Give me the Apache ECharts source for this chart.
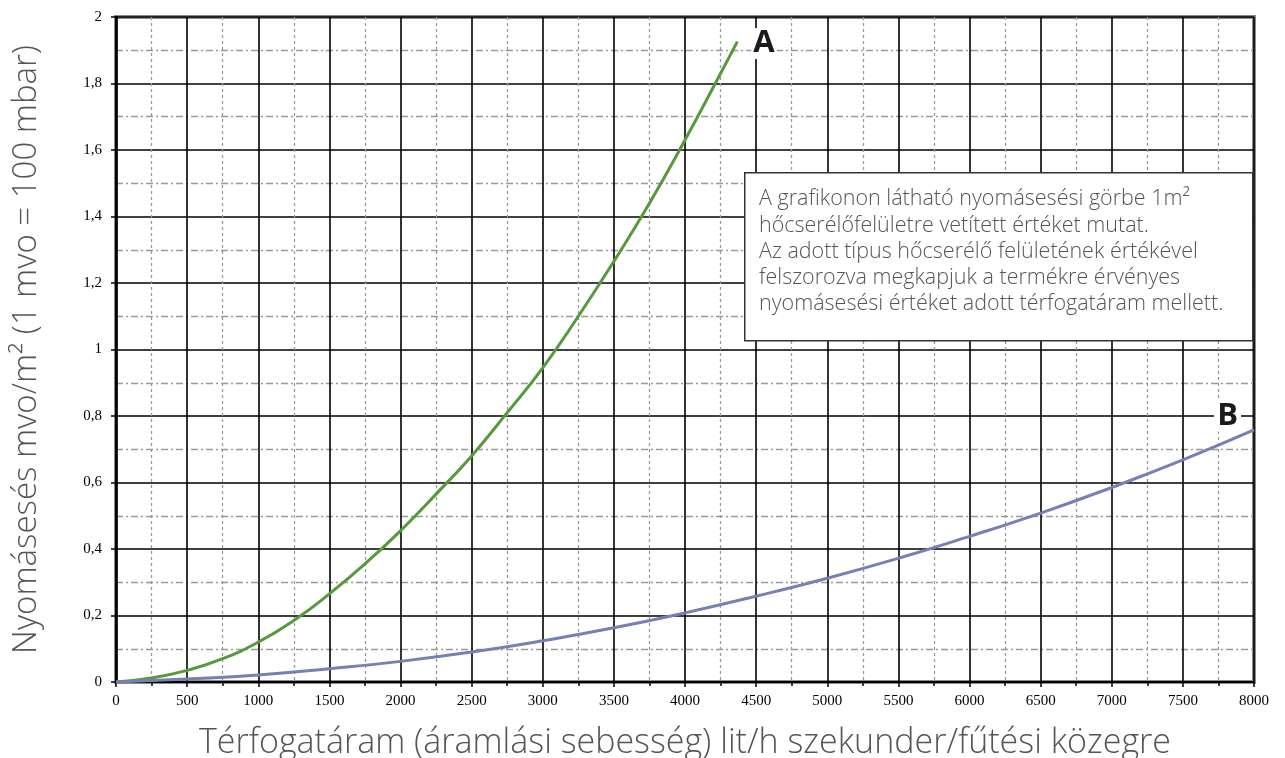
<!DOCTYPE html>
<html><head><meta charset="utf-8">
<script src="https://cdn.jsdelivr.net/npm/echarts@6/dist/echarts.min.js"></script>
<style>html,body{margin:0;padding:0;background:#fff}#c{width:1285px;height:758px}</style>
</head><body><div id="c"></div>
<script>
// Curve A (green) – [flow l/h, pressure drop mvo/m²]
const flowA = [0, 250, 500, 750, 1000, 1250, 1500, 1750, 2000, 2250, 2500, 2750, 3000, 3250, 3500, 3750, 4000, 4250, 4368];
const dropA = [0, 0.012, 0.035, 0.07, 0.12, 0.185, 0.265, 0.355, 0.455, 0.565, 0.68, 0.81, 0.945, 1.1, 1.265, 1.44, 1.63, 1.83, 1.926];
// Curve B (blue)
const flowB = [0, 500, 1000, 1500, 2000, 2500, 3000, 3500, 4000, 4500, 5000, 5500, 6000, 6500, 7000, 7500, 8000];
const dropB = [0, 0.009, 0.021, 0.04, 0.062, 0.09, 0.124, 0.163, 0.208, 0.258, 0.312, 0.372, 0.438, 0.508, 0.585, 0.668, 0.758];
const xTitle = 'Térfogatáram (áramlási sebesség) lit/h szekunder/fűtési közegre';
const yTitle = 'Nyomásesés mvo/m² (1 mvo = 100 mbar)';
const noteLines = [
  'A grafikonon látható nyomásesési görbe 1m²',
  'hőcserélőfelületre vetített értéket mutat.',
  'Az adott típus hőcserélő felületének értékével',
  'felszorozva megkapjuk a termékre érvényes',
  'nyomásesési értéket adott térfogatáram mellett.'
];

const chart = echarts.init(document.getElementById('c'));
const serif = 'Liberation Serif';
const sans = 'Open Sans';
chart.setOption({
  animation: false,
  grid: {left: 116, right: 31, top: 17, bottom: 76, outerBoundsMode: 'none', containLabel: false,
    show: true, borderColor: '#8c8c8c', borderWidth: 4, backgroundColor: '#fff'},
  xAxis: {
    type: 'value', min: 0, max: 8000, interval: 500,
    name: xTitle, nameLocation: 'middle', nameGap: 44,
    nameTextStyle: {fontFamily: sans, fontSize: 34, color: '#555', fontWeight: 300},
    axisLine: {show: true, onZero: false, lineStyle: {color: '#000', width: 2}},
    axisTick: {show: true, length: 5, lineStyle: {color: '#000', width: 1.5}},
    minorTick: {show: true, splitNumber: 2, length: 4, lineStyle: {color: '#000', width: 1.5}},
    axisLabel: {fontFamily: serif, fontSize: 15, color: '#000', margin: 12, formatter: v => String(v)},
    splitLine: {show: true, lineStyle: {color: '#000', width: 1.6}},
    minorSplitLine: {show: true, lineStyle: {color: '#999', width: 1.3, type: [3, 3]}}
  },
  yAxis: {
    type: 'value', min: 0, max: 2, interval: 0.2,
    name: yTitle, nameLocation: 'middle', nameGap: 73,
    nameTextStyle: {fontFamily: sans, fontSize: 33, color: '#555', fontWeight: 300},
    axisLine: {show: true, onZero: false, lineStyle: {color: '#000', width: 2.5}},
    axisTick: {show: true, length: 5, lineStyle: {color: '#000', width: 1.5}},
    minorTick: {show: true, splitNumber: 2, length: 0},
    axisLabel: {fontFamily: serif, fontSize: 15, color: '#000', margin: 14,
      formatter: v => String(Math.round(v * 10) / 10).replace('.', ',')},
    splitLine: {show: true, lineStyle: {color: '#000', width: 1.6}},
    minorSplitLine: {show: true, lineStyle: {color: '#999', width: 1.3, type: [7, 3, 2, 3]}}
  },
  series: [
    {type: 'line', name: 'A', smooth: true, showSymbol: false, silent: true,
      data: flowA.map((x, i) => [x, dropA[i]]),
      lineStyle: {color: '#579a3e', width: 3},
      endLabel: {show: true, formatter: 'A', fontFamily: 'Open Sans', fontWeight: 'bold', fontSize: 31, color: '#1a1a1a',
        backgroundColor: '#fff', padding: [0, 2], offset: [6, 2]}
    },
    {type: 'line', name: 'B', smooth: true, showSymbol: false, silent: true,
      data: flowB.map((x, i) => [x, dropB[i]]),
      lineStyle: {color: '#7680b3', width: 3},
      endLabel: {show: true, formatter: 'B', fontFamily: 'Open Sans', fontWeight: 'bold', fontSize: 31, color: '#1a1a1a',
        backgroundColor: '#fff', padding: [0, 3], align: 'right', offset: [-21, -14]}
    }
  ],
  graphic: [
    {type: 'rect', left: 744, top: 172, z: 100,
      shape: {width: 508, height: 168},
      style: {fill: '#fff', stroke: '#333', lineWidth: 1.5}},
    {type: 'text', left: 759, top: 186, z: 101,
      style: {text: noteLines.join('\n'), font: '300 21.5px "Open Sans"', fill: '#555', lineHeight: 26.3}}
  ]
});
</script></body></html>
